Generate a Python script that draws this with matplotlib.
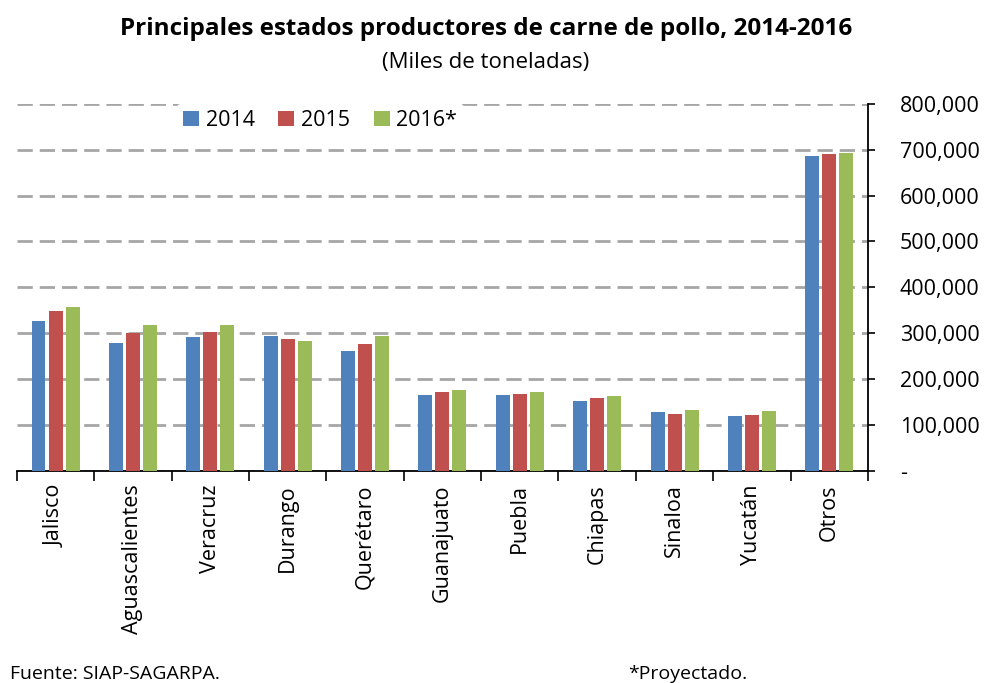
import numpy as np
import matplotlib.pyplot as plt
from matplotlib.ticker import FuncFormatter, FixedLocator

plt.rcParams['font.family'] = ['Open Sans', 'DejaVu Sans']

estados = ['Jalisco', 'Aguascalientes', 'Veracruz', 'Durango', 'Querétaro',
           'Guanajuato', 'Puebla', 'Chiapas', 'Sinaloa', 'Yucatán', 'Otros']
v2014 = [327000, 278000, 292000, 294000, 261000, 164000, 164000, 152000, 127000, 120000, 686000]
v2015 = [349000, 300000, 302000, 288000, 277000, 172000, 166000, 159000, 124000, 122000, 691000]
v2016 = [357000, 318000, 318000, 283000, 293000, 176000, 172000, 162000, 132000, 130000, 693000]
series = [('2014', v2014, '#4F81BD'), ('2015', v2015, '#C0504D'), ('2016*', v2016, '#9BBB59')]

fig = plt.figure(figsize=(9.92, 6.83), dpi=100)
ax = fig.add_axes([0.017, 0.311, 0.858, 0.537])

x = np.arange(len(estados))
w = 0.18
for i, (lab, vals, col) in enumerate(series):
    ax.bar(x + (i - 1) * 0.22, vals, width=w, color=col, label=lab, zorder=3)

ax.set_xlim(-0.5, len(estados) - 0.5)
ax.set_ylim(0, 800000)
ax.yaxis.tick_right()
ax.set_yticks(np.arange(0, 800001, 100000))
ax.yaxis.set_major_formatter(FuncFormatter(lambda v, p: '-' if v == 0 else f'{int(v):,}'))
ax.tick_params(axis='y', labelsize=15.5, length=5, width=1.2, pad=18, colors='black')
ax.grid(axis='y', color='#A6A6A6', linestyle=(0, (5.5, 2.5)), linewidth=2, zorder=0)

ax.set_xticks(x)
ax.set_xticklabels(estados, rotation=90, fontsize=15.5)
ax.xaxis.set_minor_locator(FixedLocator(np.arange(-0.5, len(estados), 1)))
ax.tick_params(axis='x', which='major', length=0, pad=10)
ax.tick_params(axis='x', which='minor', length=7, width=1.2)

for s in ['top', 'left']:
    ax.spines[s].set_visible(False)
ax.spines['bottom'].set_linewidth(1.3)
ax.spines['right'].set_linewidth(1.3)

leg = ax.legend(loc='upper left', bbox_to_anchor=(0.175, 1.03), ncol=3, fontsize=15.5,
                frameon=True, edgecolor='none', facecolor='white', framealpha=1,
                handlelength=0.75, handleheight=0.75, handletextpad=0.3, columnspacing=1.1,
                borderpad=0.3)

fig.text(0.49, 0.958, 'Principales estados productores de carne de pollo, 2014-2016',
         ha='center', va='center', fontsize=17.5, fontweight='bold')
fig.text(0.49, 0.909, '(Miles de toneladas)', ha='center', va='center', fontsize=16)
fig.text(0.01, 0.013, 'Fuente: SIAP-SAGARPA.', ha='left', va='center', fontsize=14)
fig.text(0.633, 0.013, '*Proyectado.', ha='left', va='center', fontsize=14)

plt.savefig('out.png', dpi=100)
